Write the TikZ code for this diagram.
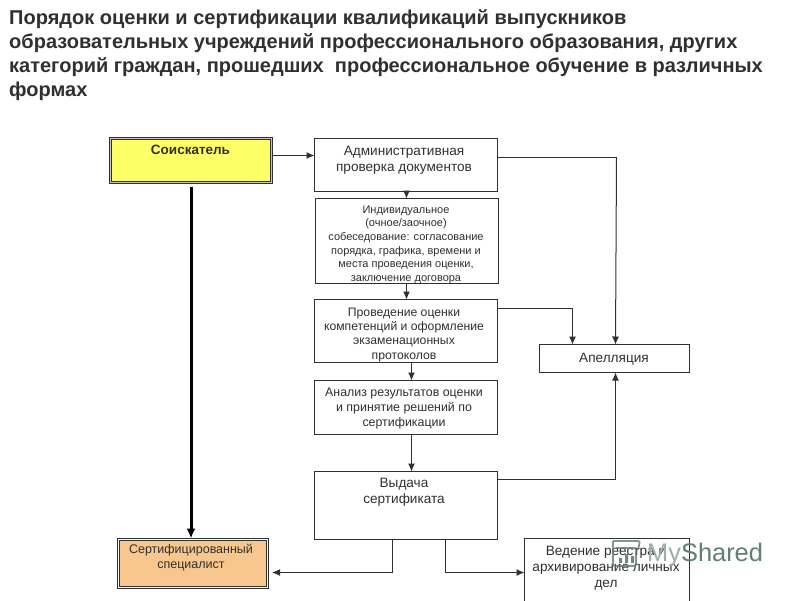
\documentclass[tikz,border=0pt]{standalone}
\usepackage{fontspec}
\setmainfont{Liberation Sans}
\usetikzlibrary{arrows.meta}
\definecolor{inkc}{HTML}{303030}
\definecolor{yelc}{HTML}{FFFF66}
\definecolor{orac}{HTML}{F8C78E}
\definecolor{wmc}{HTML}{5F7F72}
\definecolor{wmlight}{HTML}{9DB0A8}
\tikzset{
  x=1pt,y=-1pt,
  box/.style={draw=inkc,line width=1pt,fill=white,anchor=north west,inner sep=0pt,outer sep=0pt,text=inkc},
  dbl/.style={box,double distance=1pt,line width=1.3pt,fill=#1},
  lab/.style={anchor=north,align=center,inner sep=0pt,text=inkc},
  conn/.style={draw=inkc,line width=1pt,-{Latex[length=8pt,width=7pt]}},
  plain/.style={draw=inkc,line width=1pt},
  heavy/.style={draw=black,line width=3pt,-{Latex[length=10pt,width=9pt]},shorten <=4pt,shorten >=1pt},
  bigtxt/.style={font=\fontsize{13.6}{16}\selectfont},
  smalltxt/.style={font=\fontsize{11}{13.6}\selectfont},
}
\begin{document}
\begin{tikzpicture}
\useasboundingbox (0,0) rectangle (800,600);
\fill[white] (0,0) rectangle (800,600);
\node[anchor=north west,align=left,inner sep=0pt,text=inkc,font=\bfseries\fontsize{20}{24}\selectfont] (title) at (9,9)
 {Порядок оценки и сертификации квалификаций выпускников\\
  образовательных учреждений профессионального образования, других\\
  категорий граждан, прошедших\ \ профессиональное обучение в различных\\
  формах};

\node[dbl=yelc,double=gray!45,minimum width=161pt,minimum height=44pt] (soisk) at (110.5,138.5) {};
\node[lab,font=\bfseries\fontsize{13.5}{16}\selectfont] (soisktxt) at (190.5,145) {Соискатель};

\node[box,minimum width=183pt,minimum height=53pt] (adm) at (314.5,138.5) {};
\node[lab,bigtxt] (admtxt) at (404,146) {Административная\\проверка документов};

\node[box,minimum width=183pt,minimum height=85pt] (ind) at (315.5,198.5) {};
\node[lab,smalltxt] (indtxt) at (406,205.5) {Индивидуальное\\(очное/заочное)\\собеседование: согласование\\порядка, графика, времени и\\места проведения оценки,\\заключение договора};

\node[box,minimum width=183pt,minimum height=63pt] (prov) at (314.5,299.5) {};
\node[lab,font=\fontsize{12.2}{14.4}\selectfont] (provtxt) at (404,307.5) {Проведение оценки\\компетенций и оформление\\экзаменационных\\протоколов};

\node[box,minimum width=183pt,minimum height=54pt] (anal) at (314.5,380.5) {};
\node[lab,font=\fontsize{12.4}{15}\selectfont] (analtxt) at (404,387.5) {Анализ результатов оценки\\и принятие решений по\\сертификации};

\node[box,minimum width=183pt,minimum height=68pt] (vyd) at (314.5,471.5) {};
\node[lab,bigtxt] (vydtxt) at (404,478) {Выдача\\сертификата};

\node[dbl=orac,double=white,minimum width=149pt,minimum height=48pt] (spec) at (118.5,539.5) {};
\node[lab,font=\fontsize{12.5}{15.5}\selectfont] (spectxt) at (191,544) {Сертифицированный\\специалист};

\node[box,minimum width=150pt,minimum height=28pt] (apel) at (539.5,344.5) {};
\node[lab,bigtxt] (apeltxt) at (614,353) {Апелляция};

\node[box,minimum width=165pt,minimum height=66pt] (ved) at (524.5,538.5) {};
\node[lab,bigtxt] (vedtxt) at (606,546) {Ведение реестра и\\архивирование личных\\дел};

\node[anchor=west,inner sep=0pt,text=wmc,font=\fontsize{25.4}{25}\selectfont] (wm) at (647,555) {\textcolor{wmlight}{My}Shared};
\draw[wmc,line width=1.8pt,rounded corners=2pt,opacity=.8] (613,541) -- (640,541) -- (638,550) (613,541) -- (613,566) -- (636,566) -- (636,548) -- (616,548);
\fill[wmc,opacity=.9] (619,558) rectangle (622,563) (625,554) rectangle (628,563) (631,556) rectangle (634,563);

\draw[conn] (soisk.east |- 0,155.5) -- (adm.west |- 0,155.5);
\draw[heavy] (191,0 |- soisk.south) -- (191,0 |- spec.north);
\draw[conn] (406.5,0 |- adm.south) -- (406.5,0 |- ind.north);
\draw[conn] (406.5,0 |- ind.south) -- (406.5,0 |- prov.north);
\draw[conn] (411.5,0 |- prov.south) -- (411.5,0 |- anal.north);
\draw[conn] (411.5,0 |- anal.south) -- (411.5,0 |- vyd.north);
\draw[plain] (adm.east |- 0,157.5) -- (616.5,157.5);
\draw[conn] (616.5,157.5) -- (615.5,0 |- apel.north);
\draw[conn] (prov.east |- 0,308.5) -- (572.5,308.5) -- (572.5,0 |- apel.north);
\draw[conn] (vyd.east |- 0,479.5) -- (615.5,479.5) -- (615.5,0 |- apel.south);
\draw[conn] (392.5,0 |- vyd.south) -- (392.5,572.5) -- (272,572.5);
\draw[conn] (445.5,0 |- vyd.south) -- (445.5,572.5) -- (ved.west |- 0,572.5);
\end{tikzpicture}
\end{document}
